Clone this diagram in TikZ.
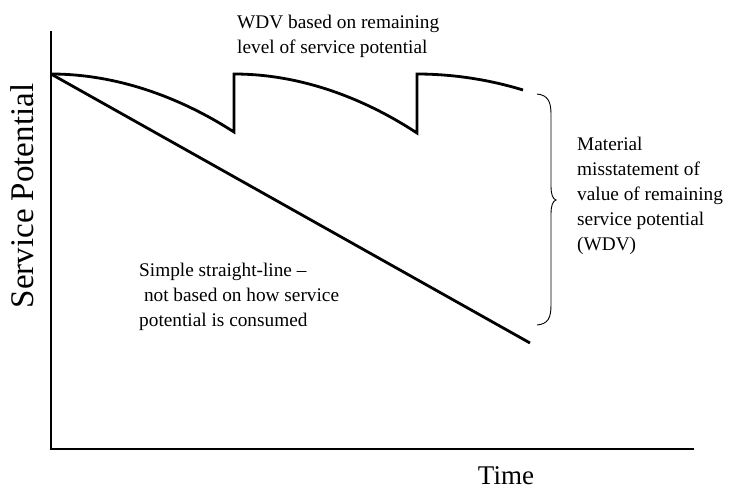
\documentclass[tikz,border=0pt]{standalone}
\usepackage{fontspec}
\setmainfont{Liberation Serif}
\begin{document}
\begin{tikzpicture}[x=1pt,y=-1pt,
  thick line/.style={line width=2.8pt,line cap=butt,line join=miter},
  lbl/.style={font=\fontsize{19.3}{25}\selectfont,inner sep=0pt,align=left,anchor=base west},
  axislbl/.style={font=\fontsize{27}{30}\selectfont,inner sep=0pt}]
\useasboundingbox (0,0) rectangle (739,490);
% axes
\draw[thick line] (51,31) -- (51,449) -- (694,449);
% straight line
\draw[thick line] (51,74) -- (530,343);
% WDV curve
\draw[thick line] (51,74) parabola[bend at start] (234,132) -- (234,74)
  parabola[bend at start] (417,133) -- (417,74)
  parabola[bend at start] (523,90);
% brace
\draw[line width=0.9pt] (537,94) .. controls (548,95) and (551,102) .. (551,114)
  -- (551,186) .. controls (551,195) and (553,199) .. (556,200)
  .. controls (553,201) and (551,205) .. (551,214)
  -- (551,305) .. controls (551,318) and (548,324) .. (537,325);
% labels (base = baseline of last line)
\node[lbl] (wdv) at (237,53) {WDV based on remaining\\level of service potential};
\node[lbl] (mis) at (577,250) {Material\\misstatement of\\value of remaining\\service potential\\(WDV)};
\node[lbl] (sl) at (139,326) {Simple straight-line --\\\ not based on how service\\potential is consumed};
\node[axislbl,anchor=base] (time) at (506,484) {Time};
\node[axislbl,font=\fontsize{33}{35}\selectfont,rotate=90,anchor=base] (sp) at (33,196) {Service Potential};
\end{tikzpicture}
\end{document}
